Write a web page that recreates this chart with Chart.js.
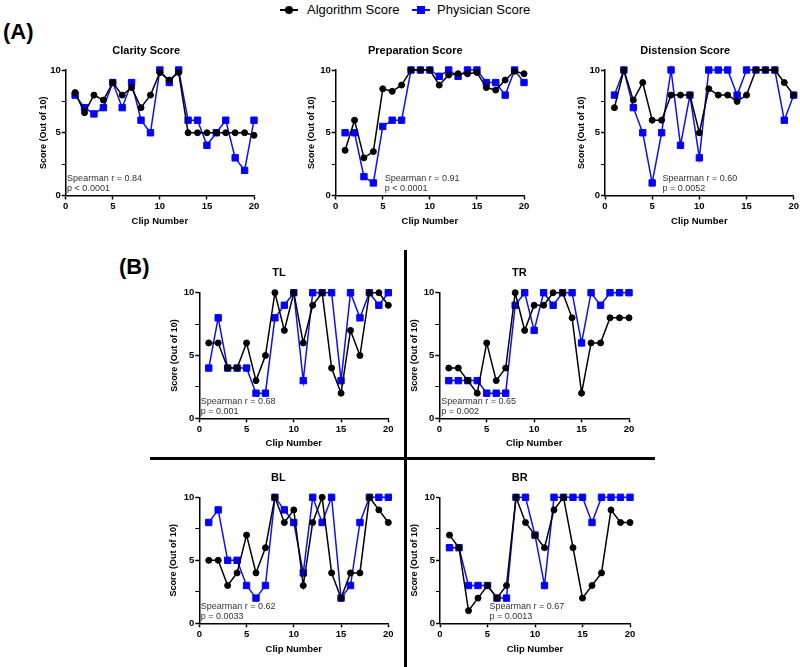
<!DOCTYPE html>
<html>
<head>
<meta charset="utf-8">
<script src="https://cdn.jsdelivr.net/npm/chart.js@4.4.1/dist/chart.umd.min.js"></script>
<style>
html,body{margin:0;padding:0;background:#fff;}
body{width:800px;height:667px;position:relative;overflow:hidden;font-family:"Liberation Sans",Arial,sans-serif;color:#000;}
canvas{position:absolute;}
.panelLabel{position:absolute;font-weight:bold;font-size:22px;line-height:1;}
.legTxt{position:absolute;font-size:13px;line-height:1;top:3px;}
.legMark{position:absolute;top:9px;width:18px;height:2px;}
.legMark span{position:absolute;left:5px;top:-3px;width:8px;height:8px;}
.divider{position:absolute;background:#000;}
</style>
</head>
<body>
<div class="legMark" style="left:280px;background:#000"><span style="background:#000;border-radius:50%"></span></div>
<div class="legTxt" style="left:307px">Algorithm Score</div>
<div class="legMark" style="left:412px;background:#1010ee"><span style="background:#0000ff"></span></div>
<div class="legTxt" style="left:437px">Physician Score</div>
<div class="panelLabel" style="left:3px;top:21px">(A)</div>
<div class="panelLabel" style="left:119px;top:256px">(B)</div>
<div class="divider" style="left:404px;top:250px;width:2.5px;height:417px"></div>
<div class="divider" style="left:150px;top:457px;width:505px;height:2.5px"></div>

<script>
// ---------- data ----------
const clips = [1,2,3,4,5,6,7,8,9,10,11,12,13,14,15,16,17,18,19,20];
const seriesNames = ['Algorithm Score', 'Physician Score'];
const xTicks = [0, 5, 10, 15, 20];
const yTicks = [0, 5, 10];

const clarityAlgorithm = [8.2,6.6,8.0,7.6,9.0,8.0,8.6,7.0,8.0,9.8,9.2,9.8,5,5,5,5,5,5,5,4.8];
const clarityPhysician = [8,7,6.5,7,9,7,9,6,5,10,9,10,6,6,4,5,6,3,2,6];
const prepAlgorithm = [3.6,6.0,3.0,3.5,8.5,8.3,8.8,10,10,10,8.8,9.6,9.7,9.7,9.8,8.6,8.4,9.2,9.9,9.7];
const prepPhysician = [5,5,1.5,1,5.5,6,6,10,10,10,9.5,10,9.5,10,10,9,9,8,10,9];
const distAlgorithm = [7,10,7.6,9,6,6,8,8,8,5,8.5,8,8,7.5,8,10,10,10,9,8];
const distPhysician = [8,10,7,5,1,5,10,4,8,3,10,10,10,8,10,10,10,10,6,8];
const tlAlgorithm = [6,6,4,4,6,3,5,10,7,10,6,9,10,4,2,7,5,10,10,9];
const tlPhysician = [4,8,4,4,4,2,2,8,9,10,3,10,10,10,3,10,8,10,9,10];
const trAlgorithm = [4,4,3,2,6,3,4,10,7,9,9,10,10,8,2,6,6,8,8,8];
const trPhysician = [3,3,3,3,2,2,2,9,10,7,10,9,10,10,6,10,9,10,10,10];
const blAlgorithm = [5,5,3,4,7,4,6,10,8,9,3,8,10,4,2,4,4,10,9,8];
const blPhysician = [8,9,5,5,3,2,3,10,9,8,4,10,8,10,2,3,8,10,10,10];
const brAlgorithm = [7,6,1,2,3,2,3,10,8,7,6,9,10,6,2,3,4,9,8,8];
const brPhysician = [6,6,3,3,3,2,2,10,10,7,3,10,10,10,10,8,10,10,10,10];

const panelTitles = ['Clarity Score','Preparation Score','Distension Score','TL','TR','BL','BR'];
const spearmanR = ['Spearman r = 0.84','Spearman r = 0.91','Spearman r = 0.60','Spearman r = 0.68','Spearman r = 0.65','Spearman r = 0.62','Spearman r = 0.67'];
const pValues = ['p < 0.0001','p < 0.0001','p = 0.0052','p = 0.001','p = 0.002','p = 0.0033','p = 0.0013'];
const noteX = [0.15, 5.2, 6.1, 0.15, 0.2, 0.15, 5.2];

// ---------- layout (page pixel positions) ----------
const layouts = [
  {left:0,   top:38,  w:270, h:195, x0:65.7,  x1:254, y0:70,    y1:195.5, titleY:51,  yTitleX:44,  xTitleY:221.5},
  {left:270, top:38,  w:270, h:195, x0:335.7, x1:524, y0:70,    y1:195.5, titleY:51,  yTitleX:312, xTitleY:221.5},
  {left:540, top:38,  w:260, h:195, x0:605,   x1:794, y0:70,    y1:195.5, titleY:51,  yTitleX:582, xTitleY:221.5},
  {left:150, top:255, w:253, h:200, x0:199.3, x1:388.3, y0:292.7, y1:418.3, titleY:273, yTitleX:175, xTitleY:443.3},
  {left:408, top:255, w:245, h:200, x0:439.3, x1:629,   y0:292.7, y1:418.3, titleY:273, yTitleX:415, xTitleY:443.3},
  {left:150, top:462, w:253, h:205, x0:199.3, x1:388.3, y0:497.3, y1:623.3, titleY:478, yTitleX:174, xTitleY:649},
  {left:408, top:462, w:245, h:205, x0:440,   x1:630,   y0:497.3, y1:623.3, titleY:478, yTitleX:415, xTitleY:649}
];
const seriesPairs = [
  [clarityAlgorithm, clarityPhysician],
  [prepAlgorithm, prepPhysician],
  [distAlgorithm, distPhysician],
  [tlAlgorithm, tlPhysician],
  [trAlgorithm, trPhysician],
  [blAlgorithm, blPhysician],
  [brAlgorithm, brPhysician]
];

const FAMILY = '"Liberation Sans", Arial, sans-serif';
const TITLE_SIZE = 11, TICK_SIZE = 9.5, XT_SIZE = 9.5, YT_SIZE = 9, NOTE_SIZE = 9;

const notePlugin = {
  id: 'notes',
  afterDatasetsDraw(chart, args, opts) {
    if (!opts || !opts.lines) return;
    const {ctx, chartArea, scales} = chart;
    ctx.save();
    ctx.font = NOTE_SIZE + 'px ' + FAMILY;
    ctx.fillStyle = '#333';
    ctx.textAlign = 'left';
    ctx.textBaseline = 'middle';
    const x = scales.x.getPixelForValue(opts.x);
    ctx.fillText(opts.lines[0], x, chartArea.bottom - 17);
    ctx.fillText(opts.lines[1], x, chartArea.bottom - 7);
    ctx.restore();
  }
};

function pts(vals) { return clips.map((c, i) => ({x: c, y: vals[i]})); }

function makePanel(i) {
  const L = layouts[i];
  const cv = document.createElement('canvas');
  cv.width = L.w; cv.height = L.h;
  cv.style.left = L.left + 'px'; cv.style.top = L.top + 'px';
  cv.style.width = L.w + 'px'; cv.style.height = L.h + 'px';
  document.body.appendChild(cv);

  const yHalf = YT_SIZE * 1.2 / 2, xHalf = XT_SIZE * 1.2 / 2, tH = TITLE_SIZE * 1.2;
  const padLeft = L.yTitleX - yHalf - L.left;
  const padRight = L.left + L.w - L.x1;
  const titleTop = L.titleY - tH / 2 - L.top;
  const titleBottom = (L.y0 - L.top) - tH - titleTop;
  const xHeight = L.xTitleY + xHalf - L.y1;
  const padBottom = L.top + L.h - (L.xTitleY + xHalf);
  const yWidth = L.x0 - (L.yTitleX - yHalf);

  const tickFont = {family: FAMILY, size: TICK_SIZE, weight: 'bold', lineHeight: 1.2};
  const [alg, phy] = seriesPairs[i];

  new Chart(cv, {
    type: 'line',
    data: {
      datasets: [
        {label: seriesNames[0], data: pts(alg), borderColor: '#000', backgroundColor: '#000',
         borderWidth: 1.5, pointStyle: 'circle', pointRadius: 3, pointBorderWidth: 1,
         pointBackgroundColor: '#000', pointBorderColor: '#000', tension: 0, clip: false},
        {label: seriesNames[1], data: pts(phy), borderColor: '#1010ee', backgroundColor: '#0000ff',
         borderWidth: 1.5, pointStyle: 'rect', pointRadius: 4.5, pointBorderWidth: 1,
         pointBackgroundColor: '#0000ff', pointBorderColor: '#0000ff', tension: 0, clip: false}
      ]
    },
    options: {
      responsive: false, animation: false, events: [],
      layout: {padding: {left: padLeft, right: padRight, top: 0, bottom: padBottom}},
      plugins: {
        legend: {display: false},
        tooltip: {enabled: false},
        title: {display: true, text: panelTitles[i], color: '#000',
          font: {family: FAMILY, size: TITLE_SIZE, weight: 'bold', lineHeight: 1.2},
          padding: {top: titleTop, bottom: titleBottom}},
        notes: {x: noteX[i], lines: [spearmanR[i], pValues[i]]}
      },
      scales: {
        x: {
          type: 'linear', min: xTicks[0], max: xTicks[xTicks.length - 1], offset: false,
          afterBuildTicks: s => { s.ticks = xTicks.map(v => ({value: v})); },
          ticks: {font: tickFont, color: '#000', padding: 1, maxRotation: 0, autoSkip: false},
          grid: {display: true, drawOnChartArea: false, drawTicks: true, tickLength: 4, tickColor: '#000', tickWidth: 1.5},
          border: {display: true, color: '#000', width: 1.5},
          title: {display: true, text: 'Clip Number', color: '#000', padding: 0,
            font: {family: FAMILY, size: XT_SIZE, weight: 'bold', lineHeight: 1.2}},
          afterFit: s => { s.height = xHeight; }
        },
        y: {
          type: 'linear', min: yTicks[0], max: yTicks[yTicks.length - 1], offset: false,
          ticks: {stepSize: 2.5, font: tickFont, color: '#000', padding: 1, autoSkip: false,
            callback: v => (yTicks.includes(v) ? String(v) : '')},
          grid: {display: true, drawOnChartArea: false, drawTicks: true, tickLength: 4, tickColor: '#000',
            tickWidth: c => (c.tick && yTicks.includes(c.tick.value) ? 1.5 : 1)},
          border: {display: true, color: '#000', width: 1.5},
          title: {display: true, text: 'Score (Out of 10)', color: '#000', padding: 0,
            font: {family: FAMILY, size: YT_SIZE, weight: 'bold', lineHeight: 1.2}},
          afterFit: s => { s.width = yWidth; }
        }
      }
    },
    plugins: [notePlugin]
  });
}

for (let i = 0; i < layouts.length; i++) makePanel(i);
</script>
</body>
</html>
